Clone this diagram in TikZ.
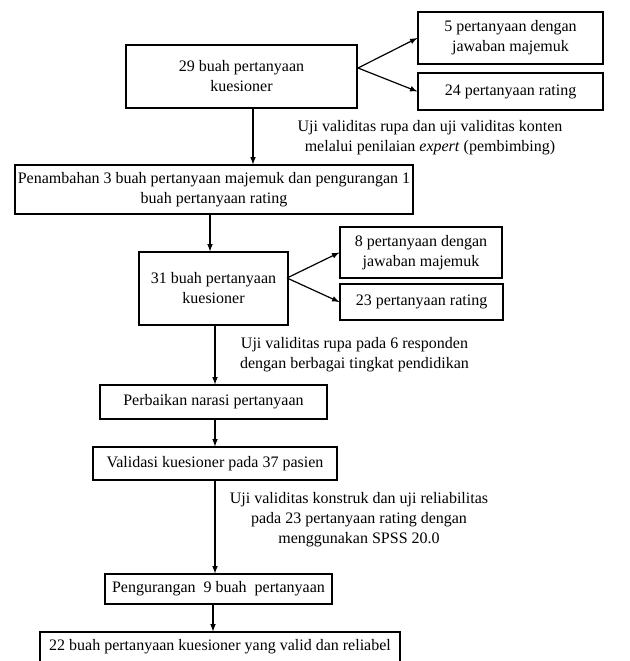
\documentclass[tikz,border=0pt]{standalone}
\usepackage{fontspec}
\setmainfont{Liberation Serif}
\begin{document}
\fontsize{12}{15}\selectfont
\begin{tikzpicture}[>=latex, x=0.75pt, y=-0.75pt, line width=0.9pt,
    kotak/.style={draw, align=center, inner sep=0pt},
    ket/.style={align=center, inner sep=0pt}]
          \useasboundingbox (0,0) rectangle (629,661);
          \node [kotak, minimum width=173.25pt, minimum height=47.25pt] (b1) at (241.5,76.5) {29 buah pertanyaan\\kuesioner};
          \node [kotak, minimum width=138.75pt, minimum height=39pt] (mj1) at (510.5,38) {5 pertanyaan dengan\\jawaban majemuk};
          \node [kotak, minimum width=138.75pt, minimum height=27.75pt] (rt1) at (510.5,91.5) {24 pertanyaan rating};
          \coordinate (c1) at (358,68);
          \draw [->] (c1) -- (mj1.west);
          \draw [->] (c1) -- (rt1.west);
          \node [kotak, minimum width=298.5pt, minimum height=36.75pt] (b2) at (214,189.5) {Penambahan 3 buah pertanyaan majemuk dan pengurangan 1\\buah pertanyaan rating};
          \draw [->] (b1.south) ++(11.5,0) coordinate (t1) -- (t1 |- b2.north);
          \node [ket] (k1) at (430,138) {Uji validitas rupa dan uji validitas konten\\melalui penilaian \textit{expert} (pembimbing)};
          \node [kotak, minimum width=111.75pt, minimum height=54.75pt] (b3) at (213.5,288.5) {31 buah pertanyaan\\kuesioner};
          \draw [->] (b2.south) ++(-4,0) coordinate (t2) -- (t2 |- b3.north);
          \node [kotak, minimum width=121.5pt, minimum height=38.25pt] (mj2) at (421,252.5) {8 pertanyaan dengan\\jawaban majemuk};
          \node [kotak, minimum width=122.25pt, minimum height=27pt] (rt2) at (421.5,302) {23 pertanyaan rating};
          \coordinate (c2) at (287,278);
          \draw [->] (c2) -- (mj2.west);
          \draw [->] (c2) -- (rt2.west);
          \node [ket] (k2) at (354.5,355) {Uji validitas rupa pada 6 responden\\dengan berbagai tingkat pendidikan};
          \node [kotak, minimum width=170.25pt, minimum height=25.5pt] (b4) at (213.5,402) {Perbaikan narasi pertanyaan};
          \draw [->] (b3.south) ++(1.5,0) coordinate (t3) -- (t3 |- b4.north);
          \node [kotak, minimum width=183pt, minimum height=24.75pt] (b5) at (215,463.5) {Validasi kuesioner pada 37 pasien};
          \draw [->] (b4.south) ++(1.5,0) coordinate (t4) -- (t4 |- b5.north);
          \node [ket] (k3) at (359,520) {Uji validitas konstruk dan uji reliabilitas\\pada 23 pertanyaan rating dengan\\menggunakan SPSS 20.0};
          \node [kotak, minimum width=170.25pt, minimum height=22.5pt] (b6) at (218.5,589) {Pengurangan~ 9 buah~ pertanyaan};
          \draw [->] (b5.south) -- (b5.south |- b6.north);
          \node [kotak, minimum width=270pt, minimum height=22.5pt] (b7) at (220,647) {22 buah pertanyaan kuesioner yang valid dan reliabel};
          \draw [->] (b6.south) ++(-5.5,0) coordinate (t6) -- (t6 |- b7.north);
        \end{tikzpicture}
\end{document}
